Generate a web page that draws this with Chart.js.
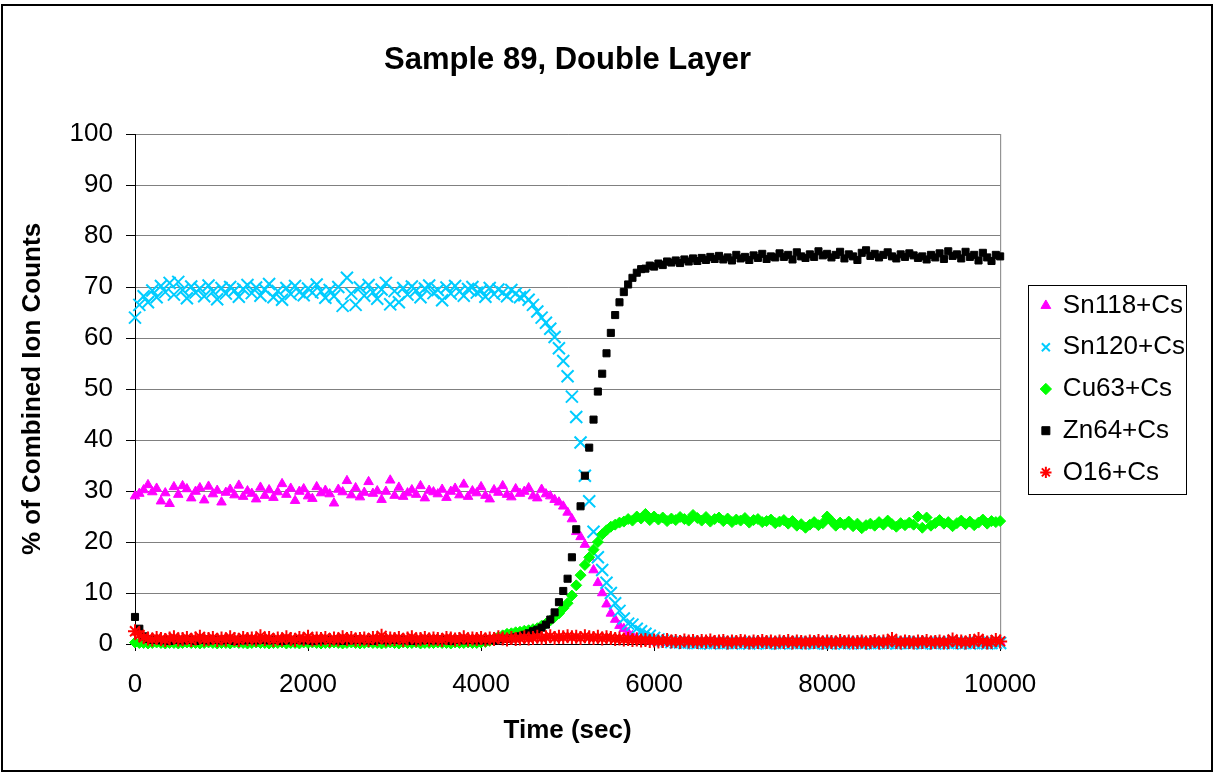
<!DOCTYPE html>
<html>
<head>
<meta charset="utf-8">
<script src="https://cdn.jsdelivr.net/npm/chart.js@4.4.1/dist/chart.umd.min.js"></script>
<style>
  body { margin: 0; background: #fff; }
  canvas { display: block; }
</style>
</head>
<body>
<canvas id="depth_chart" width="1215" height="774"></canvas>
<script>
// DATA (time in sec, values in % of combined ion counts)

const times = [
  0,50,100,150,200,250,300,350,400,450,
  500,550,600,650,700,750,800,850,900,950,
  1000,1050,1100,1150,1200,1250,1300,1350,1400,1450,
  1500,1550,1600,1650,1700,1750,1800,1850,1900,1950,
  2000,2050,2100,2150,2200,2250,2300,2350,2400,2450,
  2500,2550,2600,2650,2700,2750,2800,2850,2900,2950,
  3000,3050,3100,3150,3200,3250,3300,3350,3400,3450,
  3500,3550,3600,3650,3700,3750,3800,3850,3900,3950,
  4000,4050,4100,4150,4200,4250,4300,4350,4400,4450,
  4500,4550,4600,4650,4700,4750,4800,4850,4900,4950,
  5000,5050,5100,5150,5200,5250,5300,5350,5400,5450,
  5500,5550,5600,5650,5700,5750,5800,5850,5900,5950,
  6000,6050,6100,6150,6200,6250,6300,6350,6400,6450,
  6500,6550,6600,6650,6700,6750,6800,6850,6900,6950,
  7000,7050,7100,7150,7200,7250,7300,7350,7400,7450,
  7500,7550,7600,7650,7700,7750,7800,7850,7900,7950,
  8000,8050,8100,8150,8200,8250,8300,8350,8400,8450,
  8500,8550,8600,8650,8700,8750,8800,8850,8900,8950,
  9000,9050,9100,9150,9200,9250,9300,9350,9400,9450,
  9500,9550,9600,9650,9700,9750,9800,9850,9900,9950,
  10000
];

const sn118 = [
  29.0,29.5,30.2,31.2,29.8,30.5,28.0,29.6,27.5,30.8,
  29.3,31.0,30.4,28.6,29.9,30.6,28.2,30.9,29.4,30.1,
  27.8,29.7,30.3,29.2,31.1,28.9,30.0,29.5,28.4,30.7,
  29.1,30.2,28.7,29.8,31.4,29.3,30.5,28.1,29.9,30.4,
  29.0,28.5,30.8,29.6,30.1,29.4,27.6,30.3,29.8,32.0,
  29.2,30.6,28.8,29.7,31.8,29.5,30.0,28.3,29.9,32.1,
  29.1,30.7,28.9,29.6,30.2,29.3,31.0,28.6,30.1,29.8,
  29.4,30.3,28.7,29.9,30.5,29.2,31.3,28.9,30.0,29.6,
  30.8,29.1,28.4,30.2,29.7,31.0,29.3,28.8,30.4,29.5,
  29.9,30.6,29.0,28.6,30.3,29.4,29.0,28.3,27.8,27.0,
  25.8,24.5,22.0,21.0,19.5,17.0,14.5,12.0,10.0,7.8,
  6.0,4.8,3.6,3.0,2.2,1.6,1.2,0.9,0.7,0.6,
  0.5,0.4,0.5,0.3,0.4,0.5,0.4,0.3,0.4,0.5,
  0.4,0.3,0.5,0.4,0.3,0.4,0.5,0.3,0.4,0.4,
  0.3,0.5,0.4,0.3,0.4,0.5,0.3,0.4,0.4,0.3,
  0.5,0.4,0.3,0.4,0.5,0.3,0.4,0.3,0.5,0.4,
  0.4,0.3,0.5,0.4,0.3,0.4,0.5,0.4,0.3,0.4,
  0.5,0.3,0.4,0.4,0.3,0.5,0.4,0.3,0.4,0.5,
  0.3,0.4,0.5,0.3,0.4,0.4,0.3,0.5,0.4,0.3,
  0.4,0.5,0.3,0.4,0.3,0.5,0.4,0.4,0.3,0.4,
  0.4
];

const sn120 = [
  64.0,66.5,68.2,67.0,69.3,68.0,70.2,69.0,70.8,68.5,
  71.0,69.4,67.8,70.1,68.9,69.7,68.2,70.3,69.1,67.6,
  69.8,68.7,70.0,69.3,68.1,69.6,70.4,68.8,69.9,68.3,
  69.5,70.6,68.0,69.2,67.5,69.8,68.6,70.2,69.0,68.4,
  69.7,68.9,70.5,69.1,67.9,69.4,68.2,70.0,66.3,71.8,
  68.7,66.5,69.9,68.3,70.4,69.0,67.7,69.5,70.8,66.6,
  69.2,67.0,69.8,68.5,70.1,69.3,68.0,69.7,70.3,68.8,
  69.4,67.4,69.9,68.7,70.2,69.1,68.3,69.6,70.0,68.9,
  69.3,68.1,69.8,68.6,69.5,68.9,68.2,69.4,68.7,68.0,
  68.4,67.5,66.5,65.2,64.0,63.0,61.8,60.2,58.0,55.5,
  52.5,48.5,44.5,39.5,33.0,28.0,22.0,17.0,14.5,12.0,
  10.0,8.0,6.5,5.0,4.0,3.8,3.0,2.5,2.0,1.6,
  1.2,0.9,0.7,0.5,0.4,0.3,0.3,0.2,0.3,0.2,
  0.2,0.3,0.2,0.1,0.2,0.3,0.2,0.2,0.1,0.2,
  0.3,0.2,0.1,0.2,0.2,0.3,0.1,0.2,0.2,0.1,
  0.2,0.3,0.2,0.1,0.2,0.2,0.3,0.1,0.2,0.2,
  0.1,0.2,0.3,0.2,0.1,0.2,0.2,0.3,0.1,0.2,
  0.2,0.1,0.2,0.3,0.2,0.2,0.1,0.2,0.3,0.2,
  0.2,0.3,0.1,0.2,0.2,0.1,0.3,0.2,0.2,0.1,
  0.3,0.2,0.2,0.1,0.2,0.3,0.2,0.1,0.2,0.2,
  0.2
];

const cu63 = [
  0.3,0.2,0.2,0.1,0.2,0.3,0.2,0.1,0.2,0.2,
  0.1,0.2,0.3,0.2,0.2,0.1,0.2,0.3,0.2,0.1,
  0.2,0.2,0.1,0.3,0.2,0.2,0.1,0.2,0.3,0.2,
  0.2,0.1,0.2,0.2,0.3,0.1,0.2,0.2,0.1,0.3,
  0.2,0.3,0.2,0.1,0.2,0.2,0.3,0.2,0.1,0.2,
  0.3,0.2,0.1,0.2,0.3,0.2,0.2,0.1,0.2,0.3,
  0.2,0.1,0.3,0.2,0.2,0.3,0.1,0.2,0.2,0.2,
  0.3,0.2,0.2,0.1,0.3,0.2,0.2,0.3,0.2,0.2,
  0.3,0.4,0.6,1.0,1.4,1.7,2.0,2.1,2.3,2.4,
  2.6,2.7,2.9,3.1,3.6,4.0,4.6,5.3,6.0,7.0,
  8.0,9.5,11.5,13.5,15.5,17.0,18.5,20.0,21.5,22.3,
  23.0,23.4,23.8,24.0,24.5,24.2,25.0,24.6,25.5,24.3,
  25.0,24.4,24.8,24.1,24.6,24.3,24.9,24.5,24.2,25.3,
  24.7,24.2,24.9,24.0,24.5,24.8,24.1,24.6,23.9,24.4,
  24.2,24.7,23.8,24.3,24.5,23.9,24.1,24.4,23.7,24.0,
  24.3,23.6,24.1,23.2,23.5,22.8,23.4,23.9,23.3,23.7,
  25.0,24.1,23.2,23.8,23.4,24.0,23.1,23.6,22.7,23.3,
  23.6,23.2,23.9,23.4,24.2,23.5,23.0,23.7,23.3,23.8,
  23.4,25.0,22.8,24.8,23.2,23.7,24.3,23.6,23.9,23.1,
  23.7,24.2,23.5,24.0,23.3,23.8,24.4,23.6,24.1,23.9,
  24.1
];

const zn64 = [
  5.3,3.0,1.5,1.0,0.8,0.9,0.7,0.8,0.6,0.9,
  0.8,0.7,0.9,0.8,0.6,0.8,0.9,0.7,0.8,0.8,
  0.7,0.9,0.8,0.6,0.8,0.7,0.9,0.8,0.7,0.8,
  0.9,0.7,0.8,0.8,0.6,0.9,0.7,0.8,0.9,0.7,
  0.8,0.6,0.9,0.7,0.8,0.8,0.7,0.9,0.6,0.8,
  0.7,0.8,0.9,0.7,0.8,0.6,0.8,0.9,0.7,0.8,
  0.8,0.9,0.7,0.8,0.6,0.8,0.7,0.9,0.8,0.7,
  0.9,0.7,0.8,0.6,0.8,0.9,0.7,0.8,0.8,0.7,
  0.8,0.7,0.9,0.8,0.9,1.0,1.0,1.1,1.3,1.5,
  1.8,2.1,2.5,2.8,3.2,3.8,4.8,6.2,8.2,10.4,
  12.8,17.0,22.5,27.0,33.0,38.5,44.0,49.5,53.0,57.0,
  61.0,64.5,67.0,69.0,70.5,71.8,72.8,73.5,73.6,74.2,
  74.0,74.6,74.3,75.0,74.8,75.2,74.7,75.4,75.0,75.6,
  75.1,75.7,75.3,75.9,75.5,76.1,75.4,75.8,75.2,76.3,
  75.6,75.9,75.3,76.2,75.7,76.5,75.5,76.0,75.8,76.6,
  75.9,76.3,75.4,76.8,76.0,75.7,76.4,75.9,77.0,76.2,
  76.5,75.8,76.3,76.9,75.6,76.4,76.0,75.3,76.7,77.2,
  76.1,76.5,75.8,76.3,76.8,76.0,75.6,76.4,75.9,76.6,
  76.2,75.7,76.0,75.4,76.3,75.8,76.6,75.5,77.0,76.1,
  76.4,75.6,76.9,75.9,76.3,75.2,76.7,75.8,75.1,76.3,
  76.0
];

const o16 = [
  2.5,1.8,1.3,1.1,0.9,1.2,1.0,0.8,1.1,1.3,
  0.9,1.0,1.2,0.8,1.1,1.4,0.9,1.0,1.2,0.8,
  1.1,0.9,1.3,1.0,0.8,1.2,1.0,1.1,0.9,1.5,
  1.0,1.2,0.8,1.1,0.9,1.3,1.0,0.8,1.2,1.0,
  1.4,0.9,1.1,1.0,1.2,0.8,1.1,0.9,1.3,1.0,
  1.2,0.9,1.0,1.1,0.8,1.2,1.0,1.6,0.9,1.1,
  1.0,1.2,0.8,1.1,1.3,0.9,1.0,1.2,0.9,1.1,
  1.0,0.8,1.2,1.1,0.9,1.0,1.3,0.9,1.1,1.0,
  1.2,0.9,1.1,1.0,1.3,1.1,0.9,1.2,1.0,1.1,
  1.3,1.1,1.2,1.4,1.2,1.3,1.5,1.2,1.4,1.3,
  1.5,1.3,1.4,1.2,1.5,1.3,1.2,1.4,1.1,1.3,
  1.2,1.0,1.1,0.9,1.0,0.8,0.9,0.7,0.8,0.6,
  0.7,0.5,0.6,0.8,0.5,0.6,0.4,0.7,0.5,0.6,
  0.4,0.6,0.5,0.7,0.4,0.5,0.6,0.3,0.5,0.4,
  0.6,0.5,0.3,0.5,0.4,0.6,0.4,0.5,0.3,0.5,
  0.4,0.6,0.3,0.5,0.4,0.3,0.5,0.4,0.6,0.3,
  0.5,0.4,0.3,0.6,0.4,0.5,0.3,0.4,0.5,0.3,
  0.4,0.6,0.3,0.5,0.4,1.0,0.4,0.3,0.5,0.4,
  0.3,0.5,0.4,0.6,0.3,0.4,0.5,0.3,0.4,0.9,
  0.4,0.5,0.3,0.6,0.4,1.0,0.5,0.3,0.4,0.8,
  0.5
];

const series_names = ["Sn118+Cs", "Sn120+Cs", "Cu63+Cs", "Zn64+Cs", "O16+Cs"];
const x_ticks = [0, 2000, 4000, 6000, 8000, 10000];
const y_ticks = [0, 10, 20, 30, 40, 50, 60, 70, 80, 90, 100];

const chart_title = "Sample 89, Double Layer";
const FONT = "'Liberation Sans', Arial, Helvetica, sans-serif";

function toPoints(values){
	return values.map((v, i) => ({ x: times[i], y: v }));
}

function makeSet(label, values, style, color, radius, border, order){
	return {
		label: label,
		data: toPoints(values),
		pointStyle: style,
		pointRadius: radius,
		pointBorderWidth: border,
		pointBackgroundColor: color,
		pointBorderColor: color,
		backgroundColor: color,
		borderColor: color,
		showLine: false,
		clip: false,
		order: order
	};
}

// chart decorations: outer frame, title, plot area right edge, legend box
const decor = {
	id: 'decor',
	afterLayout(chart){
		chart.legend.left += 26;
		chart.legend.right += 26;
	},
	beforeDatasetsDraw(chart){
		const {ctx, chartArea} = chart;
		ctx.save();
		ctx.strokeStyle = '#808080';
		ctx.lineWidth = 1;
		ctx.beginPath();
		ctx.moveTo(chartArea.right + 0.5, chartArea.top);
		ctx.lineTo(chartArea.right + 0.5, chartArea.bottom);
		ctx.stroke();
		ctx.restore();
	},
	afterDraw(chart){
		const {ctx, chartArea} = chart;
		ctx.save();
		ctx.strokeStyle = '#000';
		ctx.lineWidth = 2;
		ctx.strokeRect(2, 5, 1210, 766);

		ctx.fillStyle = '#000';
		ctx.font = "bold 31px " + FONT;
		ctx.textAlign = 'center';
		ctx.textBaseline = 'middle';
		ctx.fillText(chart_title, (chartArea.left + chartArea.right) / 2, 60);

		const boxes = chart.legend.legendHitBoxes;
		if (boxes && boxes.length){
			const left = Math.min(...boxes.map(b => b.left)) - 13.5;
			const right = Math.max(...boxes.map(b => b.left + b.width)) + 1;
			const top = boxes[0].top - 8;
			const last = boxes[boxes.length - 1];
			const bottom = last.top + last.height + 8;
			ctx.lineWidth = 1;
			ctx.strokeStyle = '#000';
			ctx.strokeRect(Math.round(left) + 0.5, Math.round(top) + 0.5, Math.round(right - left), Math.round(bottom - top));
		}
		ctx.restore();
	}
};

const ctx = document.getElementById("depth_chart").getContext("2d");

const my_chart = new Chart(ctx, {
	type: 'scatter',
	data: {
		datasets: [
			makeSet(series_names[0], sn118, 'triangle', '#FF00FF', 5.5, 1, 4),
			makeSet(series_names[1], sn120, 'crossRot', '#00CCFF', 8.5, 2, 3),
			makeSet(series_names[2], cu63, 'rectRot', '#00FF00', 5.5, 1, 2),
			makeSet(series_names[3], zn64, 'rect', '#000000', 5, 1, 1),
			makeSet(series_names[4], o16, 'star', '#FF0000', 7, 2, 0)
		]
	},
	options: {
		responsive: false,
		animation: false,
		events: [],
		layout: { padding: { left: 0, top: 134, right: 46, bottom: 0 } },
		plugins: {
			title: { display: false },
			tooltip: { enabled: false },
			legend: {
				position: 'right',
				fullSize: false,
				labels: {
					usePointStyle: true,
					boxWidth: 8,
					boxHeight: 8,
					padding: 15.7,
					color: '#000',
					font: { family: FONT, size: 26 },
					sort: (a, b) => a.datasetIndex - b.datasetIndex
				}
			}
		},
		scales: {
			x: {
				type: 'linear',
				min: 0,
				max: 10000,
				afterBuildTicks: scale => { scale.ticks = x_ticks.map(v => ({ value: v })); },
				afterFit: scale => { scale.height = 130; },
				ticks: {
					color: '#000',
					font: { family: FONT, size: 26 },
					padding: 18,
					maxRotation: 0,
					autoSkip: false,
					callback: value => String(value)
				},
				grid: { drawOnChartArea: false, drawTicks: true, tickLength: 7, color: '#000' },
				border: { color: '#000', width: 1 },
				title: {
					display: true,
					text: 'Time (sec)',
					color: '#000',
					font: { family: FONT, size: 26, weight: 'bold' },
					padding: { top: 0, bottom: 28 }
				}
			},
			y: {
				min: 0,
				max: 100,
				afterBuildTicks: scale => { scale.ticks = y_ticks.map(v => ({ value: v })); },
				afterFit: scale => { scale.width = 135; },
				ticks: { color: '#000', font: { family: FONT, size: 26 }, padding: 13 },
				grid: { color: '#808080', tickColor: '#000', tickLength: 9 },
				border: { color: '#000', width: 1 },
				title: {
					display: true,
					text: '% of Combined Ion Counts',
					color: '#000',
					font: { family: FONT, size: 26, weight: 'bold' },
					padding: { top: 17, bottom: 0 }
				}
			}
		}
	},
	plugins: [decor]
});
</script>
</body>
</html>
